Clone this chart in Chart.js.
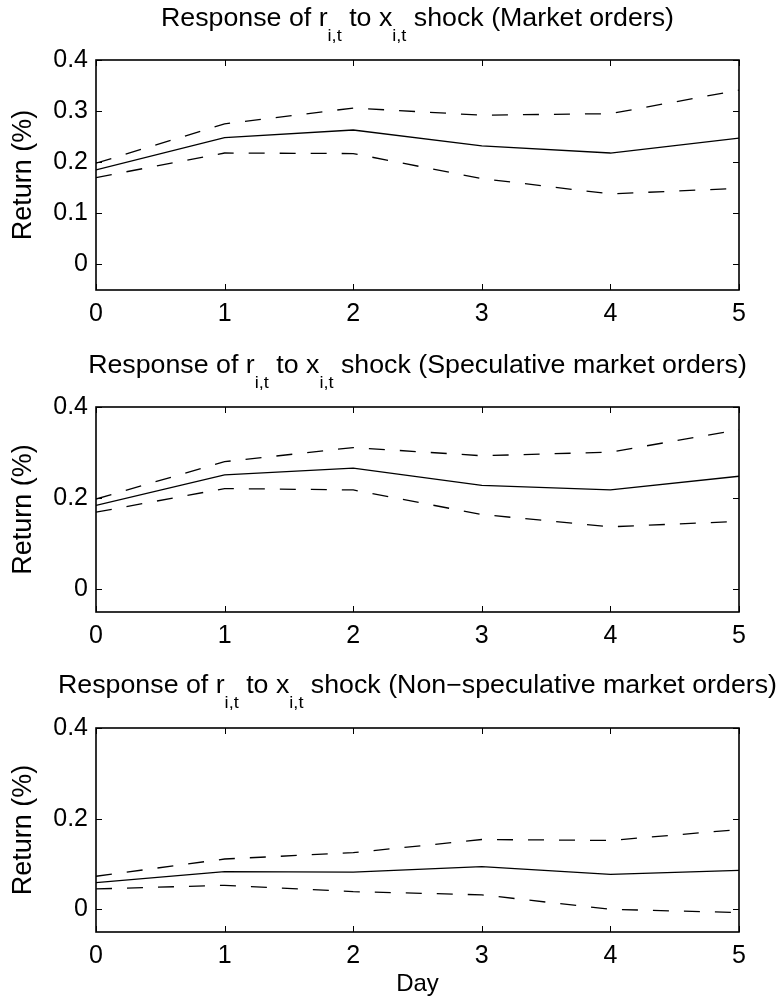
<!DOCTYPE html>
<html>
<head>
<meta charset="utf-8">
<script src="https://cdn.jsdelivr.net/npm/chart.js@4"></script>
<style>
  html, body { margin: 0; padding: 0; background: #fff; }
  body { width: 781px; height: 1004px; position: relative; overflow: hidden; }
  canvas { position: absolute; left: 0; }
</style>
</head>
<body>
<canvas id="c1" width="781" height="340" style="top:0px"></canvas>
<canvas id="c2" width="781" height="320" style="top:340px"></canvas>
<canvas id="c3" width="781" height="344" style="top:660px"></canvas>
<script>
// ---- data ----
const days = [0, 1, 2, 3, 4, 5];
const xTicks = [0, 1, 2, 3, 4, 5];
const yTicksMarket = [0, 0.1, 0.2, 0.3, 0.4];
const yTicksOther = [0, 0.2, 0.4];

const titleSuffixes = ['Market orders', 'Speculative market orders', 'Non\u2212speculative market orders'];

const marketIrf   = [0.185, 0.248, 0.263, 0.232, 0.218, 0.247];
const marketUpper = [0.198, 0.275, 0.306, 0.292, 0.295, 0.341];
const marketLower = [0.170, 0.218, 0.217, 0.168, 0.138, 0.149];

const specIrf   = [0.184, 0.251, 0.266, 0.228, 0.218, 0.248];
const specUpper = [0.198, 0.280, 0.311, 0.293, 0.301, 0.350];
const specLower = [0.169, 0.221, 0.218, 0.164, 0.137, 0.149];

const nonSpecIrf   = [0.059, 0.083, 0.082, 0.094, 0.077, 0.086];
const nonSpecUpper = [0.073, 0.111, 0.125, 0.154, 0.152, 0.176];
const nonSpecLower = [0.045, 0.053, 0.039, 0.032, 0.000, -0.007];

// ---- styling ----
const FONT = '"Liberation Sans", Arial, Helvetica, sans-serif';

const boxPlugin = {
  id: 'matlabBox',
  afterDraw(chart) {
    const { ctx, chartArea: a, scales: { x, y } } = chart;
    ctx.save();
    ctx.strokeStyle = '#000';
    ctx.lineWidth = 1;
    const tl = 6;
    ctx.beginPath();
    x.ticks.forEach(t => {
      const px = Math.round(x.getPixelForValue(t.value)) + 0.5;
      ctx.moveTo(px, a.bottom); ctx.lineTo(px, a.bottom - tl);
      ctx.moveTo(px, a.top); ctx.lineTo(px, a.top + tl);
    });
    y.ticks.forEach(t => {
      const py = Math.round(y.getPixelForValue(t.value)) + 0.5;
      ctx.moveTo(a.left, py); ctx.lineTo(a.left + tl, py);
      ctx.moveTo(a.right, py); ctx.lineTo(a.right - tl, py);
    });
    ctx.stroke();
    ctx.lineWidth = 1.6;
    ctx.strokeRect(a.left, a.top, a.right - a.left, a.bottom - a.top);
    ctx.restore();
  }
};

const subTitlePlugin = {
  id: 'subTitle',
  afterDraw(chart, args, opts) {
    const { ctx, chartArea: a } = chart;
    const parts = [
      { t: 'Response of r', sub: false },
      { t: 'i,t', sub: true },
      { t: ' to x', sub: false },
      { t: 'i,t', sub: true },
      { t: ' shock (' + opts.suffix + ')', sub: false }
    ];
    const mainFont = opts.size + 'px ' + FONT;
    const subFont = opts.subSize + 'px ' + FONT;
    ctx.save();
    let w = 0;
    parts.forEach(p => { ctx.font = p.sub ? subFont : mainFont; p.w = ctx.measureText(p.t).width; w += p.w; });
    const total = w * opts.hscale;
    const x0 = (a.left + a.right) / 2 - total / 2;
    ctx.translate(x0, 0);
    ctx.scale(opts.hscale, 1);
    ctx.fillStyle = '#000';
    ctx.textBaseline = 'alphabetic';
    ctx.textAlign = 'left';
    let cx = 0;
    parts.forEach(p => {
      ctx.font = p.sub ? subFont : mainFont;
      ctx.fillText(p.t, cx, p.sub ? opts.baseline + opts.subDrop : opts.baseline);
      cx += p.w;
    });
    ctx.restore();
  }
};

function makeChart(id, irf, upper, lower, yTicks, suffix, layout) {
  const mk = (vals, dashed) => ({
    data: days.map((d, i) => ({ x: d, y: vals[i] })),
    borderColor: '#000',
    borderWidth: 1.3,
    borderDash: dashed ? [16, 15] : [],
    pointRadius: 0,
    fill: false,
    tension: 0
  });
  return new Chart(document.getElementById(id), {
    type: 'line',
    data: { datasets: [mk(upper, true), mk(irf, false), mk(lower, true)] },
    plugins: [boxPlugin, subTitlePlugin],
    options: {
      responsive: false,
      animation: false,
      events: [],
      layout: { padding: { top: layout.top, right: 42, left: 0, bottom: 0 } },
      plugins: {
        legend: { display: false },
        tooltip: { enabled: false },
        subTitle: { suffix: suffix, size: 25, subSize: 17, hscale: 1.07, baseline: layout.baseline, subDrop: 15 }
      },
      scales: {
        x: {
          type: 'linear', min: 0, max: 5,
          afterBuildTicks: s => { s.ticks = xTicks.map(v => ({ value: v })); },
          afterFit: s => { s.height = layout.xh; },
          grid: { display: false, drawTicks: false },
          border: { display: false },
          ticks: { color: '#000', font: { family: FONT, size: 25 }, padding: 9, maxRotation: 0, callback: v => String(v) },
          title: { display: layout.xTitle, text: 'Day', color: '#000', font: { family: FONT, size: 24 }, padding: { top: 0, bottom: 5 } }
        },
        y: {
          type: 'linear', min: -0.05, max: 0.4,
          afterBuildTicks: s => { s.ticks = yTicks.map(v => ({ value: v })); },
          afterFit: s => { s.width = 96; },
          grid: { display: false, drawTicks: false },
          border: { display: false },
          ticks: { color: '#000', font: { family: FONT, size: 25 }, padding: 8, callback: v => String(v) },
          title: { display: true, text: 'Return (%)', color: '#000', font: { family: FONT, size: 27 }, padding: { top: 7, bottom: 0 } }
        }
      }
    }
  });
}

makeChart('c1', marketIrf, marketUpper, marketLower, yTicksMarket, titleSuffixes[0], { top: 60, xh: 50, baseline: 26, xTitle: false });
makeChart('c2', specIrf, specUpper, specLower, yTicksOther, titleSuffixes[1], { top: 67, xh: 48, baseline: 33, xTitle: false });
makeChart('c3', nonSpecIrf, nonSpecUpper, nonSpecLower, yTicksOther, titleSuffixes[2], { top: 68, xh: 72, baseline: 33, xTitle: true });
</script>
</body>
</html>
